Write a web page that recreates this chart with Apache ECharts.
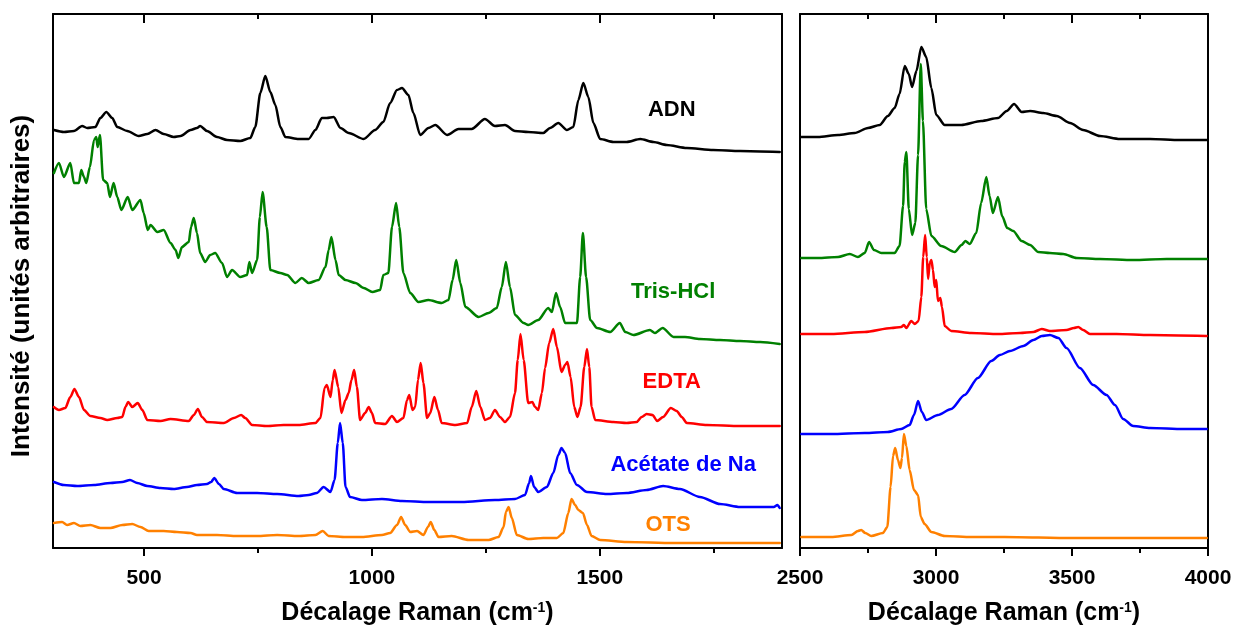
<!DOCTYPE html>
<html><head><meta charset="utf-8">
<script src="https://cdn.jsdelivr.net/npm/echarts@6/dist/echarts.min.js"></script>
<style>html,body{margin:0;padding:0;background:#fff}#c{width:1234px;height:628px}</style>
</head><body><div id="c"></div>
<script>
// Raman shift (cm-1) vs intensity (arbitrary units, stacked offsets)
const adnLow = [[302,418],[324,416],[346,417],[364,422],[375,420],[393,421],[404,430],[417,436],[430,430],[441,421],[463,417],[488,412],[507,414],[525,418],[543,414],[565,411],[580,412],[602,418],[616,420],[623,422],[638,417],[660,411],[682,408],[711,407],[733,410],[744,421],[755,455],[766,472],[777,456],[788,443],[799,421],[810,411],[839,409],[861,409],[876,418],[890,430],[901,430],[916,431],[931,420],[949,415],[982,409],[1007,418],[1025,426],[1040,445],[1055,458],[1066,460],[1080,453],[1091,435],[1106,413],[1124,420],[1139,423],[1165,413],[1190,419],[1219,419],[1248,429],[1270,422],[1292,423],[1314,417],[1343,416],[1376,415],[1391,420],[1409,425],[1428,418],[1442,421],[1453,448],[1464,465],[1475,451],[1486,425],[1501,409],[1530,406],[1559,406],[1589,409],[1618,406],[1647,403],[1691,400],[1749,398],[1808,397],[1895,396]];
const trisLow = [[302,375],[313,385],[324,371],[338,385],[346,365],[357,365],[362,378],[368,371],[373,365],[381,381],[390,408],[395,411],[398,401],[403,413],[410,368],[419,365],[425,351],[433,365],[441,351],[450,338],[464,351],[474,338],[492,348],[499,335],[508,318],[514,323],[529,316],[543,318],[558,305],[569,298],[575,290],[583,301],[598,306],[603,321],[609,330],[616,315],[623,295],[634,286],[645,293],[656,295],[671,285],[682,271],[693,278],[711,271],[726,273],[731,286],[737,275],[748,288],[754,331],[760,356],[769,321],[777,278],[799,275],[814,273],[832,265],[846,270],[861,265],[883,268],[898,281],[905,298],[911,311],[920,288],[927,273],[942,268],[964,265],[982,260],[1001,256],[1018,258],[1025,273],[1036,275],[1044,321],[1053,345],[1060,321],[1069,275],[1084,255],[1102,246],[1124,248],[1153,245],[1168,248],[1177,268],[1185,288],[1194,265],[1205,241],[1234,231],[1256,235],[1274,240],[1285,261],[1294,286],[1303,261],[1314,233],[1333,225],[1343,223],[1365,228],[1387,240],[1395,236],[1404,255],[1413,241],[1424,225],[1450,225],[1457,271],[1463,315],[1470,271],[1479,228],[1494,220],[1523,216],[1544,225],[1556,216],[1574,213],[1610,218],[1621,215],[1638,220],[1662,211],[1687,211],[1720,209],[1764,208],[1808,207],[1852,206],[1895,204]];
const edtaLow = [[302,141],[313,138],[327,140],[338,151],[347,159],[357,151],[368,138],[382,132],[404,130],[419,128],[441,130],[452,131],[459,141],[465,146],[474,141],[486,145],[496,138],[507,128],[536,127],[558,129],[598,127],[609,133],[618,139],[627,131],[638,126],[675,125],[697,130],[713,133],[722,130],[737,123],[770,122],[806,123],[839,123],[876,125],[887,130],[896,160],[901,163],[909,151],[914,168],[918,178],[926,161],[933,135],[942,148],[949,155],[955,168],[961,178],[967,161],[974,128],[985,135],[993,141],[1000,135],[1007,125],[1029,124],[1044,132],[1055,126],[1069,130],[1077,148],[1082,153],[1089,138],[1095,141],[1101,168],[1107,185],[1113,165],[1121,130],[1128,135],[1137,151],[1145,138],[1153,125],[1183,123],[1209,125],[1219,141],[1229,157],[1238,141],[1248,128],[1259,130],[1270,138],[1281,131],[1292,126],[1303,131],[1314,155],[1320,188],[1326,214],[1333,188],[1343,145],[1352,146],[1358,141],[1365,138],[1373,155],[1380,180],[1389,205],[1398,219],[1406,201],[1416,176],[1424,183],[1429,186],[1436,171],[1444,141],[1451,131],[1458,141],[1466,181],[1472,199],[1477,181],[1482,141],[1490,128],[1530,126],[1559,125],[1581,126],[1592,131],[1603,134],[1616,133],[1626,127],[1639,131],[1656,140],[1669,137],[1680,131],[1691,125],[1735,123],[1808,122],[1895,122]];
const acetLow = [[302,66],[324,63],[353,62],[390,63],[426,65],[452,66],[469,68],[485,65],[507,62],[536,60],[565,59],[594,61],[616,63],[638,64],[647,66],[654,70],[664,64],[675,59],[704,55],[748,55],[792,54],[839,52],[861,53],[879,55],[894,61],[909,56],[918,68],[925,105],[930,125],[936,105],[942,61],[952,51],[978,48],[1022,49],[1066,47],[1124,46],[1197,46],[1270,48],[1314,49],[1336,53],[1345,65],[1349,72],[1356,61],[1365,56],[1384,61],[1398,75],[1409,93],[1416,100],[1424,95],[1435,75],[1450,63],[1472,56],[1516,54],[1559,55],[1603,58],[1639,62],[1676,59],[1720,51],[1764,44],[1808,41],[1882,41],[1890,43],[1895,40]];
const otsLow = [[302,25],[320,26],[331,23],[346,25],[360,22],[382,23],[404,20],[426,20],[452,23],[474,24],[492,21],[510,17],[543,17],[572,16],[602,15],[616,13],[660,13],[704,12],[748,12],[792,13],[839,12],[876,13],[892,17],[905,12],[942,11],[978,11],[1022,13],[1040,15],[1055,23],[1064,31],[1073,23],[1084,16],[1099,17],[1113,13],[1123,21],[1129,26],[1137,18],[1146,11],[1175,12],[1212,8],[1256,8],[1278,11],[1289,21],[1294,36],[1300,41],[1307,30],[1318,13],[1343,9],[1376,10],[1406,10],[1420,15],[1431,35],[1438,49],[1446,43],[1453,38],[1463,35],[1472,23],[1482,12],[1501,8],[1559,6],[1662,5],[1777,5],[1895,5]];

const adnHigh = [[2505,411],[2566,411],[2640,413],[2701,415],[2750,420],[2793,423],[2823,432],[2848,440],[2866,454],[2885,482],[2900,474],[2912,461],[2928,477],[2946,501],[2964,491],[2983,460],[3001,433],[3032,423],[3093,423],[3166,427],[3228,430],[3260,437],[3287,444],[3315,436],[3346,437],[3394,435],[3444,432],[3493,425],[3541,418],[3603,412],[3676,409],[3787,409],[3897,408],[3995,408]];
const trisHigh = [[2505,290],[2566,290],[2640,291],[2683,294],[2713,291],[2738,295],[2754,306],[2772,298],[2799,295],[2848,295],[2866,302],[2879,342],[2885,386],[2891,396],[2900,339],[2912,313],[2924,325],[2934,393],[2944,484],[2952,427],[2964,339],[2983,312],[3019,302],[3069,296],[3094,303],[3108,307],[3124,304],[3148,315],[3166,345],[3185,371],[3197,352],[3209,335],[3228,351],[3243,332],[3262,320],[3284,317],[3315,307],[3346,303],[3376,296],[3419,295],[3468,294],[3517,290],[3603,289],[3725,288],[3848,289],[3995,289]];
const edtaHigh = [[2505,214],[2615,214],[2738,216],[2836,220],[2872,221],[2882,223],[2891,220],[2909,227],[2922,224],[2936,227],[2946,251],[2953,291],[2960,313],[2966,291],[2971,269],[2977,285],[2983,288],[2989,278],[2995,261],[3001,268],[3007,247],[3016,250],[3022,241],[3032,222],[3056,217],[3130,215],[3228,214],[3309,215],[3358,216],[3389,219],[3419,217],[3480,218],[3507,220],[3523,221],[3541,218],[3566,214],[3664,214],[3787,213],[3995,212]];
const acetHigh = [[2505,114],[2615,114],[2738,115],[2823,116],[2872,119],[2903,123],[2919,133],[2934,147],[2948,136],[2964,128],[3007,133],[3056,139],[3105,153],[3154,170],[3203,187],[3235,193],[3272,197],[3321,202],[3358,208],[3389,212],[3419,213],[3450,210],[3480,200],[3529,180],[3578,163],[3627,153],[3658,143],[3688,129],[3725,122],[3787,120],[3909,119],[3995,119]];
const otsHigh = [[2505,11],[2615,11],[2689,13],[2713,17],[2725,18],[2740,15],[2762,12],[2805,15],[2821,21],[2833,61],[2842,92],[2850,100],[2860,88],[2869,80],[2875,90],[2882,114],[2891,102],[2903,78],[2919,58],[2934,53],[2944,31],[2958,24],[2983,16],[3032,12],[3130,11],[3252,11],[3500,10],[3750,10],[3995,10]];

const seriesNames = ['ADN', 'Tris-HCl', 'EDTA', 'Acétate de Na', 'OTS'];
const seriesColors = ['#000000', '#008000', '#ff0000', '#0000ff', '#ff8000'];
const lowData = [adnLow, trisLow, edtaLow, acetLow, otsLow];
const highData = [adnHigh, trisHigh, edtaHigh, acetHigh, otsHigh];
// label anchor points (cm-1, intensity) in the low-shift panel
const labelX = [1658, 1661, 1658, 1683, 1650];
const labelY = [438, 256, 166, 83, 23];

const lowMajorTicks = [500, 1000, 1500];
const lowMinorTicks = [750, 1250, 1750];
const xTitle = 'Décalage Raman (cm';
const yTitle = 'Intensité (unités arbitraires)';

const FF = '"Liberation Sans", Arial, sans-serif';
const blk = {color: '#000', width: 2};
const plainNum = (v) => String(v);

function titleRich() {
  return {
    rich: {
      t: {fontSize: 25, fontWeight: 'bold', fontFamily: FF, color: '#000'},
      s: {fontSize: 14, fontWeight: 'bold', fontFamily: FF, color: '#000', verticalAlign: 'top', lineHeight: 14}
    }
  };
}
const axisTitle = '{t|' + xTitle + '}{s|-1}{t|)}';

const chart = echarts.init(document.getElementById('c'), null, {renderer: 'canvas'});

const xAxes = [
  {gridIndex: 0, type: 'value', min: 300, max: 1900, position: 'bottom',
   axisLine: {show: true, onZero: false, lineStyle: blk},
   axisTick: {show: true, inside: false, length: 8, lineStyle: blk, customValues: lowMajorTicks},
   axisLabel: {show: true, customValues: lowMajorTicks, formatter: plainNum, fontSize: 21, fontWeight: 'bold', fontFamily: FF, color: '#000', margin: 20},
   splitLine: {show: false},
   name: axisTitle, nameLocation: 'middle', nameGap: 53, nameTextStyle: titleRich()},
  {gridIndex: 0, type: 'value', min: 300, max: 1900, position: 'bottom',
   axisLine: {show: false, onZero: false},
   axisTick: {show: true, inside: false, length: 5, lineStyle: blk, customValues: lowMinorTicks},
   axisLabel: {show: false}, splitLine: {show: false}},
  {gridIndex: 0, type: 'value', min: 300, max: 1900, position: 'top',
   axisLine: {show: true, onZero: false, lineStyle: blk},
   axisTick: {show: true, inside: true, length: 9, lineStyle: blk, customValues: lowMajorTicks},
   axisLabel: {show: false}, splitLine: {show: false}},
  {gridIndex: 0, type: 'value', min: 300, max: 1900, position: 'top',
   axisLine: {show: false, onZero: false},
   axisTick: {show: true, inside: true, length: 5, lineStyle: blk, customValues: lowMinorTicks},
   axisLabel: {show: false}, splitLine: {show: false}},
  {gridIndex: 1, type: 'value', min: 2500, max: 4000, interval: 500, position: 'bottom',
   axisLine: {show: true, onZero: false, lineStyle: blk},
   axisTick: {show: true, inside: false, length: 8, lineStyle: blk},
   minorTick: {show: true, splitNumber: 2, length: 5, lineStyle: blk},
   axisLabel: {show: true, formatter: plainNum, fontSize: 21, fontWeight: 'bold', fontFamily: FF, color: '#000', margin: 20, showMinLabel: true, showMaxLabel: true},
   splitLine: {show: false},
   name: axisTitle, nameLocation: 'middle', nameGap: 53, nameTextStyle: titleRich()},
  {gridIndex: 1, type: 'value', min: 2500, max: 4000, interval: 500, position: 'top',
   axisLine: {show: true, onZero: false, lineStyle: blk},
   axisTick: {show: true, inside: true, length: 9, lineStyle: blk},
   minorTick: {show: true, splitNumber: 2, length: 5, lineStyle: blk},
   axisLabel: {show: false}, splitLine: {show: false}}
];

const yAxes = [
  {gridIndex: 0, type: 'value', min: 0, max: 534, position: 'left',
   axisLine: {show: true, onZero: false, lineStyle: blk}, axisTick: {show: false}, axisLabel: {show: false}, splitLine: {show: false},
   name: yTitle, nameLocation: 'middle', nameRotate: 90, nameGap: 18,
   nameTextStyle: {fontSize: 26, fontWeight: 'bold', fontFamily: FF, color: '#000', padding: [0, 10, 0, 0]}},
  {gridIndex: 0, type: 'value', min: 0, max: 534, position: 'right',
   axisLine: {show: true, onZero: false, lineStyle: blk}, axisTick: {show: false}, axisLabel: {show: false}, splitLine: {show: false}},
  {gridIndex: 1, type: 'value', min: 0, max: 534, position: 'left',
   axisLine: {show: true, onZero: false, lineStyle: blk}, axisTick: {show: false}, axisLabel: {show: false}, splitLine: {show: false}},
  {gridIndex: 1, type: 'value', min: 0, max: 534, position: 'right',
   axisLine: {show: true, onZero: false, lineStyle: blk}, axisTick: {show: false}, axisLabel: {show: false}, splitLine: {show: false}}
];

const series = [];
seriesNames.forEach((name, i) => {
  [[0, 0, lowData[i]], [4, 2, highData[i]]].forEach(([xi, yi, d]) => {
    series.push({type: 'line', name: name, xAxisIndex: xi, yAxisIndex: yi, data: d,
      showSymbol: false, symbol: 'none', smooth: 0.25, smoothMonotone: 'x', silent: true, z: 2 + i,
      lineStyle: {color: seriesColors[i], width: 2.5, join: 'round', cap: 'round'}, itemStyle: {color: seriesColors[i]}});
  });
});
series.push({type: 'scatter', xAxisIndex: 0, yAxisIndex: 0, silent: true, symbolSize: 0, z: 10,
  itemStyle: {opacity: 1},
  data: seriesNames.map((n, i) => ({value: [labelX[i], labelY[i]], name: n,
    label: {show: true, position: 'inside', formatter: n, color: seriesColors[i], opacity: 1, fontSize: 22, fontWeight: 'bold', fontFamily: FF}}))
});

chart.setOption({
  animation: false,
  backgroundColor: '#ffffff',
  grid: [
    {left: 53, top: 14, width: 729, height: 534, containLabel: false, outerBoundsMode: 'none'},
    {left: 800, top: 14, width: 408, height: 534, containLabel: false, outerBoundsMode: 'none'}
  ],
  xAxis: xAxes,
  yAxis: yAxes,
  series: series
});
</script>
</body></html>
